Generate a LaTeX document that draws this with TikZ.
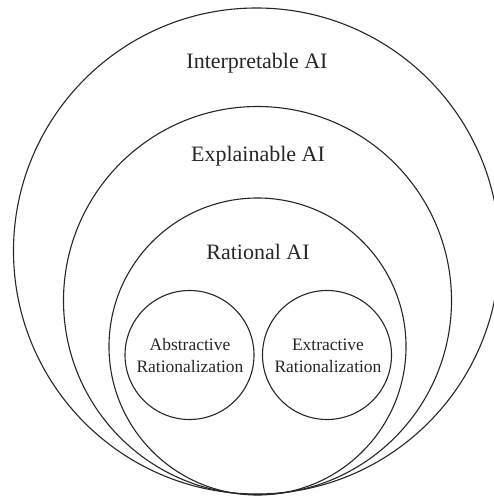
\documentclass[tikz,border=0pt]{standalone}
\usepackage{fontspec}
\setmainfont{Liberation Serif}
\begin{document}
\begin{tikzpicture}[x=1pt,y=-1pt,
  ring/.style={draw=black!85,line width=1.1pt,circle,inner sep=0pt},
  biglabel/.style={font=\fontsize{22}{26}\selectfont,text=black!85,inner sep=0pt},
  smalllabel/.style={font=\fontsize{17.5}{22}\selectfont,text=black!85,align=center,inner sep=0pt}]
\useasboundingbox (0,0) rectangle (494,497);
\begin{scope}
\clip (0,0) rectangle (494,497);
\node[ring,minimum size=486pt] (interp) at (256.5,251) {};
\end{scope}
\node[ring,minimum size=388pt] (expl) at (257.5,300.5) {};
\node[ring,minimum size=297pt] (rat) at (257.5,346.5) {};
\node[ring,minimum size=129pt] (abs) at (189.5,355) {};
\node[ring,minimum size=129pt] (ext) at (327,355) {};
\node[biglabel] (tinterp) at (257,63) {Interpretable AI};
\node[biglabel] (texpl) at (258,156) {Explainable AI};
\node[biglabel] (trat) at (258,252) {Rational AI};
\node[smalllabel] (tabs) at (190,356) {Abstractive\\Rationalization};
\node[smalllabel] (text) at (328,356) {Extractive\\Rationalization};
\end{tikzpicture}
\end{document}
